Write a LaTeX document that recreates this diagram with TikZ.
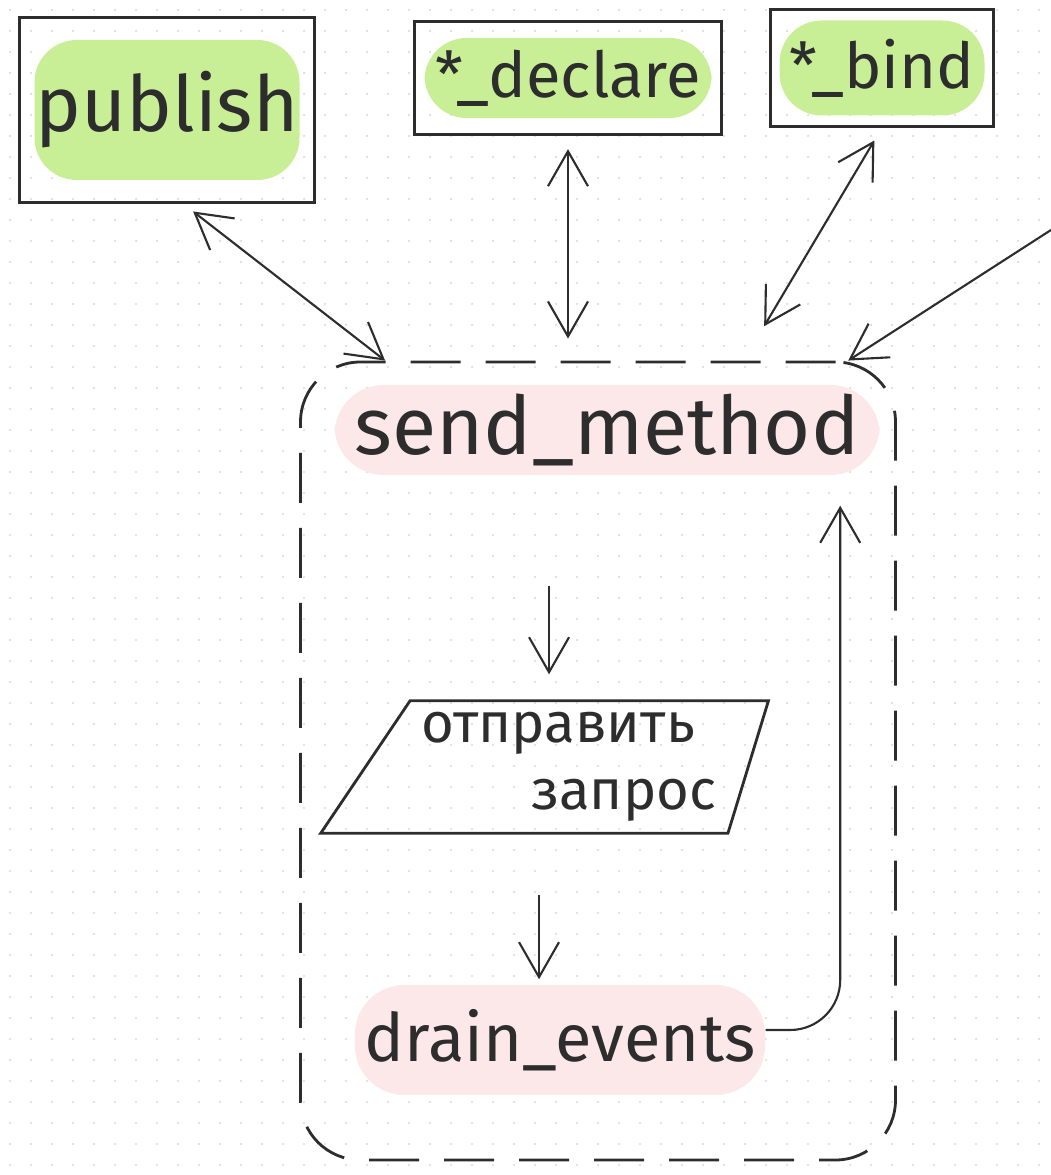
\documentclass[tikz,border=0pt]{standalone}
\usepackage{fontspec}
\setmainfont{Fira Sans}
\usetikzlibrary{arrows.meta, fit, shapes.geometric, calc}
\definecolor{marker}{RGB}{200,238,150}
\definecolor{blush}{RGB}{252,232,232}
\definecolor{ink}{RGB}{45,45,45}
\definecolor{dots}{RGB}{218,218,218}
\begin{document}
\begin{tikzpicture}[
  label/.style={fill=marker, rounded corners=12pt, inner sep=0pt, text=ink},
  card/.style={draw=ink, line width=0.8pt},
  hint/.style={fill=blush, rounded corners=14pt, inner sep=0pt, text=ink},
  link/.style={draw=ink, line width=0.6pt, {Straight Barb[length=3.5mm,width=4mm]}-{Straight Barb[length=3.5mm,width=4mm]}},
  flow/.style={draw=ink, line width=0.6pt, -{Straight Barb[length=3.5mm,width=4mm]}},
]
  % Paper
  \useasboundingbox (0,0) rectangle (10.51,11.75);
  \foreach \i in {0,...,49} \foreach \j in {0,...,55} \fill[dots] (0.1+0.21*\i,0.1+0.21*\j) circle (0.012);

  % Top boxes
  \node[label, minimum width=2.65cm, minimum height=1.4cm, font=\fontsize{22}{24}\selectfont] (publishtxt) at (1.67,10.65) {publish};
  \node[card, inner xsep=0.14cm, inner ysep=0.22cm, fit=(publishtxt)] (publish) {};
  \node[label, minimum width=2.87cm, minimum height=0.8cm, font=\fontsize{18}{20}\selectfont] (declaretxt) at (5.68,10.97) {*\_declare};
  \node[card, inner xsep=0.09cm, inner ysep=0.16cm, fit=(declaretxt)] (declare) {};
  \node[label, minimum width=2.05cm, minimum height=0.95cm, font=\fontsize{18}{20}\selectfont] (bindtxt) at (8.82,11.07) {*\_bind};
  \node[card, inner xsep=0.08cm, inner ysep=0.1cm, fit=(bindtxt)] (bind) {};

  % Send loop
  \node[draw=ink, line width=0.8pt, dashed, dash pattern=on 5mm off 2.5mm, rounded corners=0.6cm, minimum width=5.95cm, minimum height=7.98cm] (frame) at (5.98,4.14) {};
  \node[hint, minimum width=5.45cm, minimum height=0.9cm, font=\fontsize{23}{25}\selectfont] (send) at (6.07,7.45) {send\_method};
  \node[trapezium, draw=ink, line width=0.8pt, trapezium left angle=56, trapezium right angle=107, trapezium stretches=true, minimum width=4.38cm, minimum height=1.25cm, align=left, text=ink, font=\fontsize{16}{19}\selectfont] (para) at (5.69,4.08) {отправить\\\hspace*{1.1cm}запрос};
  \node[hint, minimum width=4.1cm, minimum height=1.1cm, font=\fontsize{19}{21}\selectfont] (drain) at (5.60,1.35) {drain\_events};

  % Calls
  \draw[link, shorten <=0.12cm] (publish.-80) -- (frame.118);
  \draw[link, shorten <=0.13cm, shorten >=0.22cm] (declare.south) -- (declare.south |- frame.north);
  \draw[link, shorten <=0.15cm, shorten >=0.4cm] (bind.south) -- (frame.70);
  \coordinate (edge) at (10.51,9.45);
  \draw[flow] (edge) -- (frame.58);

  % Steps
  \draw[flow, shorten <=1.1cm, shorten >=0.25cm] ([xshift=-0.2cm]send.south -| para.north) -- ([xshift=-0.2cm]para.north);
  \draw[flow, shorten <=0.6cm, shorten >=0.05cm] ([xshift=-0.3cm]para.south) -- ([xshift=-0.3cm]para.south |- drain.north);
  \draw[flow, rounded corners=0.5cm] ([yshift=0.1cm]drain.east) -| ([xshift=-0.4cm,yshift=-0.3cm]send.south east);
\end{tikzpicture}
\end{document}
